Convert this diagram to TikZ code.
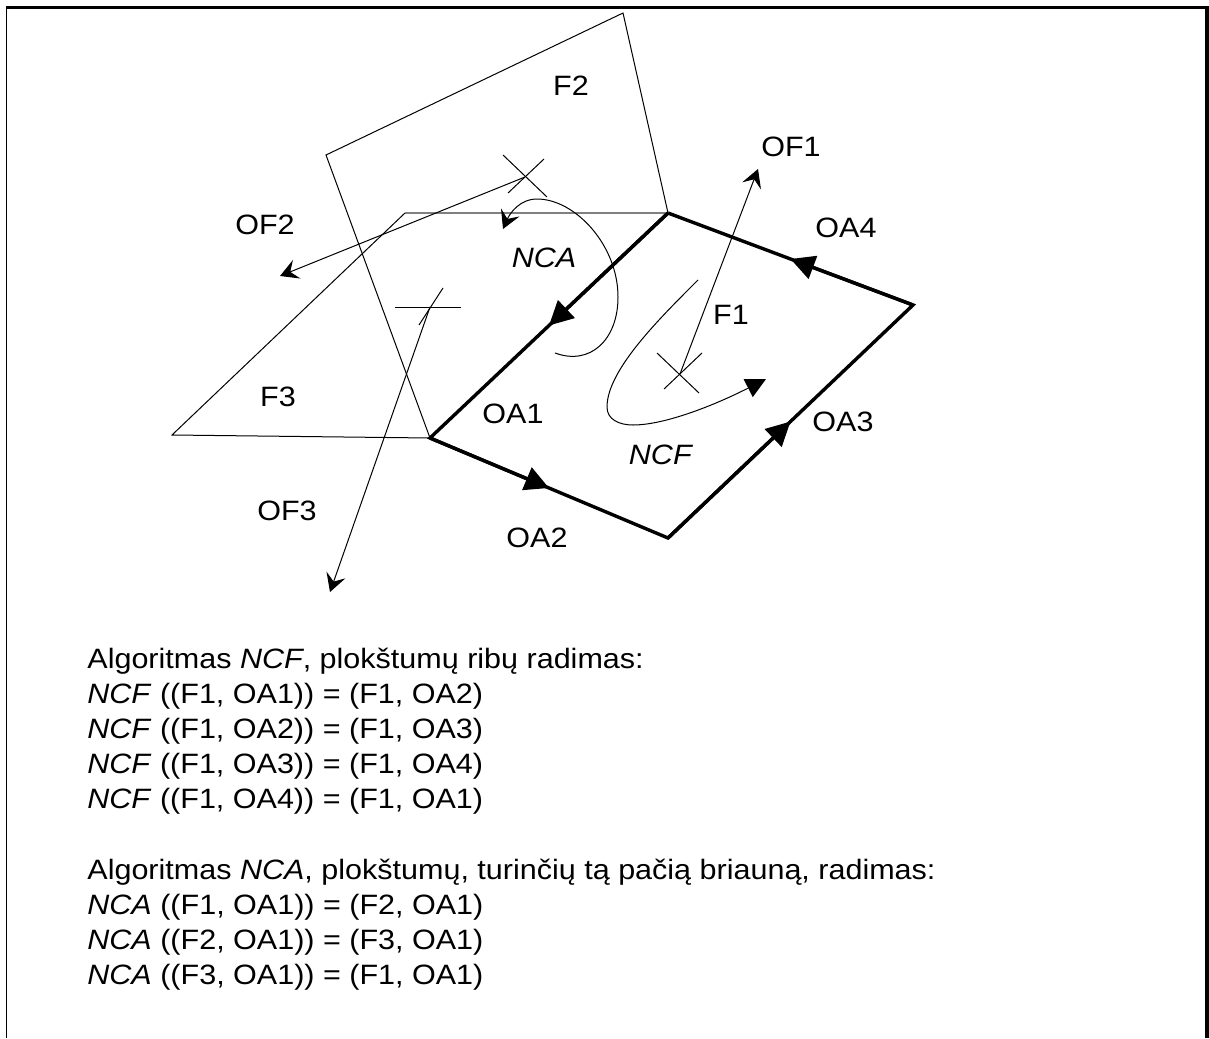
\documentclass[tikz,border=0pt]{standalone}
\usepackage{fontspec}
\setmainfont[FakeStretch=1.09]{Liberation Sans}
\usetikzlibrary{arrows.meta,calc}

\begin{document}
\begin{tikzpicture}[x=0.5pt, y=-0.5pt,
    thinline/.style={line width=0.5pt},
    edgeline/.style={line width=1.7pt},
    midtip/.style={-{Triangle[length=12pt,width=12pt]}},
    flowtip/.style={-{Triangle[length=10pt,width=10pt]}},
    normaltip/.style={-{Stealth[length=9pt,width=10pt,inset=3.5pt]}},
    lbl/.style={font=\fontsize{14}{16}\selectfont, inner sep=0pt},
    listing/.style={font=\fontsize{14}{17.5}\selectfont, inner sep=0pt, align=left, anchor=north west}]
  \useasboundingbox (0,0) rectangle (1209,1038);

  \draw[line width=0.7pt] (6.7,1038) -- (6.7,7);
  \draw[line width=1.3pt] (6,7.5) -- (1209,7.5);
  \draw[line width=2pt] (1207,7.5) -- (1207,1038);

  \coordinate (a) at (430,438);
  \coordinate (b) at (668,213);
  \coordinate (c) at (913,305);
  \coordinate (d) at (668,538);
  \coordinate (ftwoa) at (623,13);
  \coordinate (ftwob) at (326,155);
  \coordinate (fthreea) at (405,213);
  \coordinate (fthreeb) at (172,435);

  \draw[thinline] (b) -- (ftwoa) -- (ftwob) -- (a);
  \draw[thinline, gray, line width=0.9pt] (b) -- (fthreea);
  \draw[thinline] (fthreea) -- (fthreeb) -- (a);

  \draw[edgeline] (b) -- (a) -- (d) -- (c) -- (b);
  \foreach \from/\to in {b/a, a/d, d/c, c/b}
    \draw[edgeline, midtip] (\from) -- ($(\from)!0.5!(\to)$);

  \coordinate (ofone) at (680,374);
  \coordinate (oftwo) at (525,177);
  \coordinate (ofthree) at (430,307);
  \coordinate (ofoneend) at (758,169);
  \coordinate (oftwoend) at (280,276);
  \coordinate (ofthreeend) at (330,592);

  \draw[thinline] (657,353) -- (699,393);
  \draw[thinline] (664,389) -- (702,353);
  \draw[thinline] (503,155) -- (547,197);
  \draw[thinline] (508,193) -- (544,159);
  \draw[thinline] (395,307) -- (461,307);
  \draw[thinline] (419,325) -- (443,288);

  \draw[thinline, normaltip] (ofone) -- (ofoneend);
  \draw[thinline, normaltip] (oftwo) -- (oftwoend);
  \draw[thinline, normaltip] (ofthree) -- (ofthreeend);

  \coordinate (ncastart) at (555,353);
  \coordinate (ncaend) at (503,229);
  \draw[thinline, normaltip] (ncastart) .. controls (590,366) and (618,340) .. (618,297)
    .. controls (618,245) and (575,199) .. (537,199)
    .. controls (520,199) and (510,213) .. (ncaend);

  \coordinate (ncfstart) at (698,280);
  \coordinate (ncfend) at (766,379);
  \draw[thinline, flowtip] (ncfstart) .. controls (660,318) and (607,370) .. (607,407)
    .. controls (607,420) and (620,425) .. (633,425)
    .. controls (665,425) and (715,405) .. (ncfend);

  \node[lbl] (ftwo) at (571,86) {F2};
  \node[lbl] (ofonelbl) at (791,147) {OF1};
  \node[lbl] (oftwolbl) at (265,225) {OF2};
  \node[lbl] (oafour) at (846,228) {OA4};
  \node[lbl] (nca) at (544,258) {\textit{NCA}};
  \node[lbl] (fone) at (731,315) {F1};
  \node[lbl] (fthree) at (278,397) {F3};
  \node[lbl] (oaone) at (513,414) {OA1};
  \node[lbl] (oathree) at (843,422) {OA3};
  \node[lbl] (ncf) at (661,455) {\textit{NCF}};
  \node[lbl] (ofthreelbl) at (287,511) {OF3};
  \node[lbl] (oatwo) at (537,538) {OA2};

  \node[listing] (ncflist) at (87,648) {Algoritmas \textit{NCF}, plokštumų ribų radimas:\\
    \textit{NCF} ((F1, OA1)) = (F1, OA2)\\
    \textit{NCF} ((F1, OA2)) = (F1, OA3)\\
    \textit{NCF} ((F1, OA3)) = (F1, OA4)\\
    \textit{NCF} ((F1, OA4)) = (F1, OA1)};
  \node[listing] (ncalist) at (87,859) {Algoritmas \textit{NCA}, plokštumų, turinčių tą pačią briauną, radimas:\\
    \textit{NCA} ((F1, OA1)) = (F2, OA1)\\
    \textit{NCA} ((F2, OA1)) = (F3, OA1)\\
    \textit{NCA} ((F3, OA1)) = (F1, OA1)};
\end{tikzpicture}
\end{document}
